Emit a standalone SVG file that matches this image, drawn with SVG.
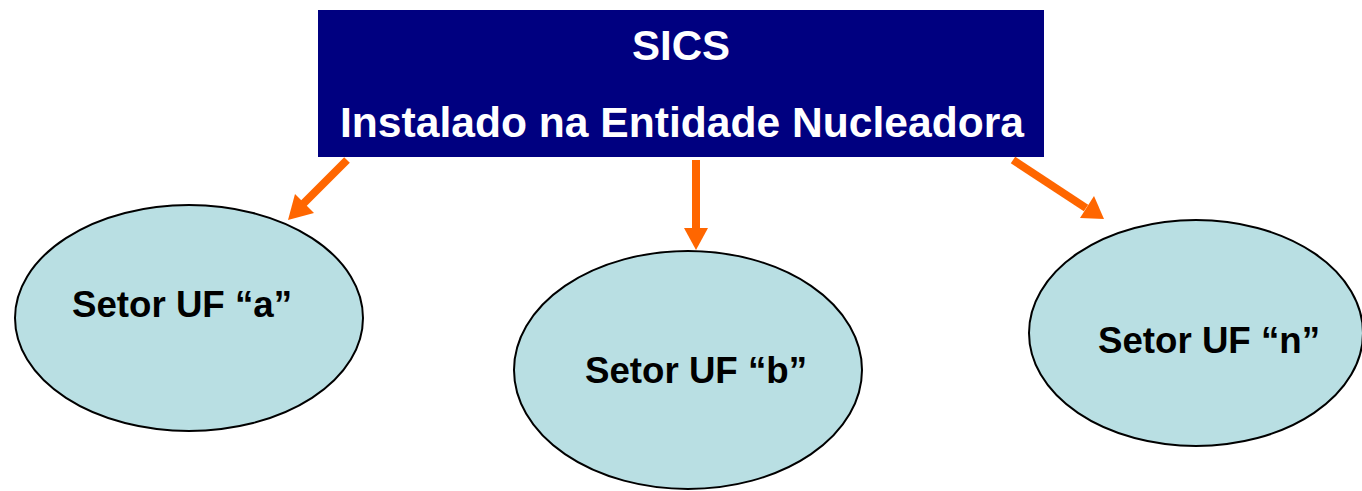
<svg xmlns="http://www.w3.org/2000/svg" width="1362" height="491" viewBox="0 0 1362 491">
<style>
.t{font-family:"Liberation Sans",Arial,sans-serif;font-weight:bold;text-anchor:middle}
.hd{fill:#fff;font-size:42px}
.nd{fill:#B9DFE3;stroke:#000;stroke-width:2}
.lb{fill:#000;font-size:36px}
.cn{stroke:#FF6600;stroke-width:8;fill:none}
.ah{fill:#FF6600}
</style>
<rect width="1362" height="491" fill="#fff"/>
<g id="sics">
<rect x="318" y="10" width="726" height="147" fill="#000080"/>
<text class="t hd" x="681" y="60">SICS</text>
<text class="t hd" x="682" y="137" textLength="684" lengthAdjust="spacingAndGlyphs">Instalado na Entidade Nucleadora</text>
</g>
<g id="connectors">
<line class="cn" x1="347" y1="160" x2="303" y2="204"/>
<polygon class="ah" points="288,220 295,194 314,213"/>
<line class="cn" x1="696" y1="160" x2="696" y2="230"/>
<polygon class="ah" points="696,250 684,228 708,228"/>
<line class="cn" x1="1013" y1="160" x2="1086" y2="208"/>
<polygon class="ah" points="1104,219 1080,218 1094,196"/>
</g>
<g id="setor-a">
<ellipse class="nd" cx="189" cy="318" rx="174" ry="113"/>
<text class="t lb" x="182" y="317" textLength="220" lengthAdjust="spacingAndGlyphs">Setor UF “a”</text>
</g>
<g id="setor-b">
<ellipse class="nd" cx="688" cy="370" rx="174" ry="119"/>
<text class="t lb" x="696" y="383" textLength="222" lengthAdjust="spacingAndGlyphs">Setor UF “b”</text>
</g>
<g id="setor-n">
<ellipse class="nd" cx="1196" cy="333" rx="167" ry="113"/>
<text class="t lb" x="1209" y="353" textLength="222" lengthAdjust="spacingAndGlyphs">Setor UF “n”</text>
</g>
</svg>
